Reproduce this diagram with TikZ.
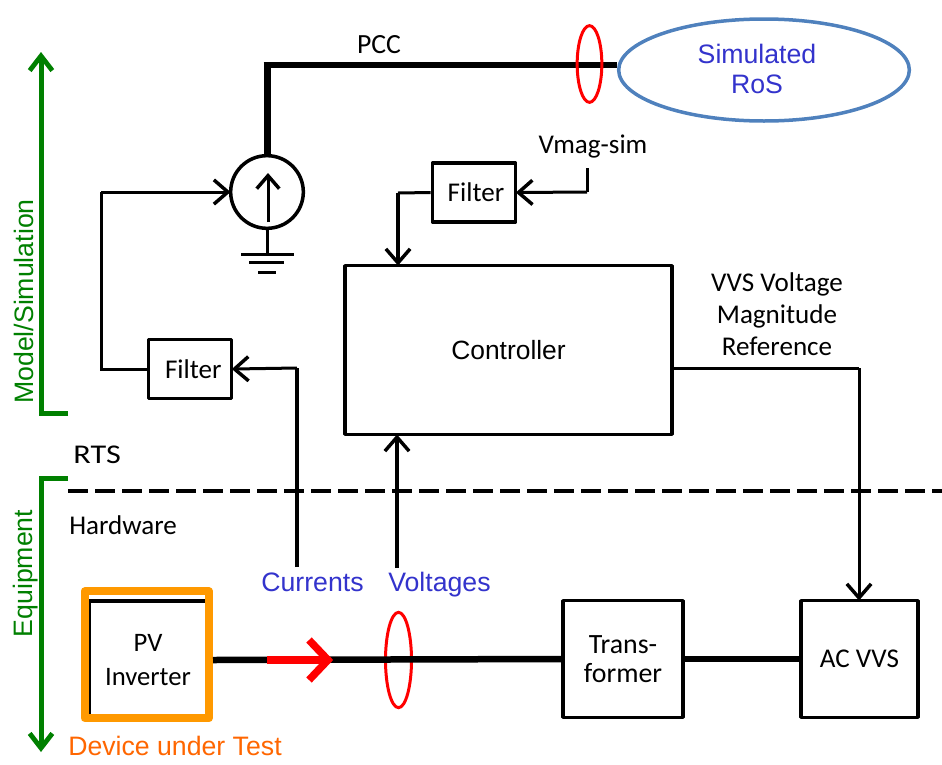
\documentclass[tikz,border=0pt]{standalone}
\usepackage{fontspec}
\setmainfont{Carlito}
\newfontfamily\arialf{Liberation Sans}
\usetikzlibrary{arrows.meta,shapes.geometric}
\definecolor{greenax}{RGB}{0,128,0}
\definecolor{blueT}{RGB}{51,51,204}
\definecolor{orangeT}{RGB}{255,102,0}
\definecolor{orangeB}{RGB}{255,153,0}
\definecolor{blueE}{RGB}{79,129,189}
\tikzset{
  px/.style={line width=#1*0.75pt},
  blockbox/.style={draw=black,px=3.5,fill=white,inner sep=0pt,align=center,line join=round,font=\fontsize{20.3}{22}\selectfont},
  lbl/.style={inner sep=0pt,align=center,font=\fontsize{20.3}{24}\selectfont},
  alab/.style={inner sep=0pt,align=center,font=\arialf\fontsize{20}{22}\selectfont},
  openarrow/.style={-{Straight Barb[length=#1*0.75pt,width=#1*1.3pt,line width=2.6pt]}},
  sig/.style={draw=black,px=3,openarrow=14,shorten >=-1.2pt},
  sigplain/.style={draw=black,px=3},
  power/.style={draw=black,px=6.5},
  axis/.style={draw=greenax,px=5,-{Straight Barb[length=11pt,width=17pt,line width=3.6pt]}},
  ringR/.style={ellipse,draw=red,px=3,inner sep=0pt},
}
\begin{document}
\begin{tikzpicture}[x=0.75pt,y=-0.75pt]
\useasboundingbox (0,0) rectangle (942,764);
% power lines
\coordinate (pcctop) at (267,65);
\node[ellipse,draw=blueE,px=3.5,minimum width=218pt,minimum height=76.5pt,inner sep=0pt,fill=white] (ros) at (764,70) {};
\node[alab,text=blueT,font=\arialf\fontsize{20}{22.5}\selectfont] (rostext) at (757,69) {Simulated\\RoS};
\node[circle,draw=black,px=3.5,minimum size=54.5pt,inner sep=0pt] (src) at (267,192) {};
\draw[draw=black,px=7] (src.north) -- (pcctop);
\draw[draw=black,px=5.5] (263.5,65) -- (ros.west |- pcctop);
\draw[sig,openarrow=13,shorten >=0pt] (268,222) -- (268,173);
\node[alab,font=\fontsize{20.8}{22}\selectfont] (pcc) at (379,45) {PCC};
\node[ringR,minimum width=18.5pt,minimum height=57.5pt] (ring1) at (589.5,64) {};
% ground
\coordinate (g1) at (267,254);
\draw[sigplain] (src.south) -- (g1);
\coordinate (g1l) at (241,254); \coordinate (g1r) at (294,254);
\coordinate (g2l) at (249,262.5); \coordinate (g2r) at (284,262.5);
\coordinate (g3l) at (258,272); \coordinate (g3r) at (276,272);
\draw[px=3] (g1l) -- (g1r);
\draw[px=3] (g2l) -- (g2r);
\draw[px=3] (g3l) -- (g3r);
% blocks
\node[blockbox,minimum width=62.5pt,minimum height=44pt] (f1) at (474,192.5) {\kern3pt Filter};
\node[blockbox,minimum width=62.5pt,minimum height=44.5pt] (f2) at (190,369) {\kern5pt Filter};
\node[blockbox,font=\arialf\fontsize{19.8}{24}\selectfont,minimum width=245pt,minimum height=126.5pt] (ctrl) at (508.5,350) {Controller};
\node[blockbox,font=\fontsize{20.9}{21.75}\selectfont,minimum width=90pt,minimum height=87.5pt] (trans) at (623,659) {Trans-\\former};
\node[blockbox,minimum width=87.5pt,minimum height=87.5pt] (acvvs) at (859.5,659) {AC VVS};
\node[blockbox,font=\fontsize{20}{25.5}\selectfont,minimum width=88.5pt,minimum height=88.5pt] (pv) at (148,660) {PV\\Inverter};
\node[draw=orangeB,px=8,line join=round,minimum width=93.4pt,minimum height=95pt,inner sep=0pt] (dut) at (146.8,654.8) {};
\node[ringR,minimum width=19.5pt,minimum height=71.5pt] (ring2) at (398.5,660) {};
% main power line
\coordinate (pvout) at (213,660);
\draw[power] (pvout) -- (trans.west);
\draw[power] (trans.east) -- (acvvs.west);
\draw[draw=red,px=7.5] (267,660) -- (327,660);
\coordinate (rtip) at (328,660);
\coordinate (r1) at (309,640); \coordinate (r2) at (309,680);
\draw[draw=red,px=7.5] (r1) -- (rtip) -- (r2);
% Vmag
\node[lbl] (vmag) at (593,147) {Vmag-sim};
\coordinate (vm) at (587,192);
\coordinate (vms) at (587,168);
\draw[sigplain] (vms) -- (vm);
\draw[sig] (vm) -- (f1.east);
\coordinate (c1) at (398,193);
\draw[sigplain] (f1.west) -- (c1);
\draw[sig,px=4] (c1) -- (ctrl.north -| c1);
% Source feedback
\coordinate (a1) at (101,369);
\coordinate (a2) at (101,192);
\draw[sigplain] (f2.west) -- (a1) -- (a2);
\draw[sig] (a2) -- (src.west);
% Currents
\node[alab,text=blueT] (cur) at (312.5,582) {Currents};
\node[alab,text=blueT] (vol) at (439.5,585) {Voltages};
\coordinate (ci) at (297,567);
\coordinate (cb) at (297,368);
\draw[sigplain,px=3.5] (ci) -- (cb);
\draw[sig] (cb) -- (f2.east);
\coordinate (vi) at (397,568);
\draw[sig,px=4] (vi) -- (vi |- ctrl.south);
% VVS ref
\node[lbl] (vvsl) at (777,314) {VVS Voltage\\Magnitude\\Reference};
\coordinate (d1) at (859,368);
\draw[sigplain] (ctrl.east |- d1) -- (d1);
\draw[sig] (d1) -- (d1 |- acvvs.north);
% axes
\coordinate (m1) at (68,413);
\coordinate (m2) at (41,413);
\coordinate (m3) at (41,52);
\draw[axis] (m1) -- (m2) -- (m3);
\coordinate (e1) at (68,478);
\coordinate (e2) at (41,478);
\coordinate (e3) at (41,752);
\draw[axis] (e1) -- (e2) -- (e3);
\node[alab,text=greenax,rotate=90] (ms) at (23.5,301.5) {Model/Simulation};
\node[alab,text=greenax,rotate=90] (eq) at (26,573.5) {Equipment};
% dashed
\coordinate (ds) at (68,491);
\coordinate (de) at (942,491);
\draw[draw=black,px=3.5,dash pattern=on 15pt off 5.25pt] (ds) -- (de);
\node[lbl,anchor=west,xscale=1.19] (rts) at (73,455) {RTS};
\node[lbl,anchor=west] (hw) at (69,525) {Hardware};
\node[alab,anchor=west,text=orangeT] (dutl) at (68,746) {Device under Test};
\end{tikzpicture}
\end{document}
